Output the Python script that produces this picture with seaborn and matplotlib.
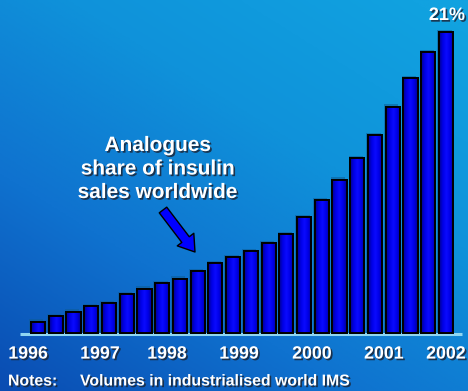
import numpy as np
import pandas as pd
import matplotlib
matplotlib.use("Agg")
import matplotlib.pyplot as plt
import matplotlib.patheffects as pe
from matplotlib.colors import LinearSegmentedColormap
from matplotlib.patches import Rectangle
import seaborn as sns

# Quarterly analogue share of insulin sales (%), 1996 Q1 - 2001 Q4
quarters = list(range(24))
share = [0.8, 1.2, 1.5, 1.9, 2.1, 2.7, 3.1, 3.5, 3.8, 4.3, 4.9, 5.3,
         5.7, 6.3, 6.9, 8.1, 9.3, 10.7, 12.2, 13.8, 15.8, 17.8, 19.6, 21.0]

year_labels = ["1996", "1997", "1998", "1999", "2000", "2001", "2002"]
year_label_pos = [-0.56, 3.49, 7.27, 11.33, 15.45, 19.5, 23.0]

last_label = "21%"
annotation = "Analogues\nshare of insulin\nsales worldwide"
note_head = "Notes:"
note_body = "Volumes in industrialised world IMS"

sns.set_theme(style="white")
plt.rcParams["font.family"] = ["Liberation Sans", "DejaVu Sans"]

W, H, DPI = 468, 391, 100
fig = plt.figure(figsize=(W / DPI, H / DPI), dpi=DPI)
ax = fig.add_axes([0, 0, 1, 1])

# diagonal blue gradient background
gx, gy = np.meshgrid(np.linspace(0, 1, 300), np.linspace(0, 1, 300))
t = np.clip(0.45 * gx + 0.6 * (1 - gy), 0, 1)
bg_cmap = LinearSegmentedColormap.from_list(
    "bg", ["#0a4cb2", "#0f72cf", "#0f92da", "#11a2e0"])
ax.imshow(t, cmap=bg_cmap, extent=[0, 1, 0, 1], transform=ax.transAxes,
          aspect="auto", origin="upper", zorder=0, interpolation="bilinear")

df = pd.DataFrame({"q": quarters, "share": share})
sns.barplot(data=df, x="q", y="share", color="#0000ff", width=0.8,
            edgecolor="black", linewidth=1.4, saturation=1, ax=ax, zorder=3)

# shade each bar: dark at the sides, bright in the middle
bar_cmap = LinearSegmentedColormap.from_list(
    "bar", ["#00008c", "#0000e6", "#0a0aff", "#0000e6", "#00008c"])
grad = np.linspace(0, 1, 64).reshape(1, -1)
bars = list(ax.patches)
for p in bars:
    x0, y0 = p.get_x(), p.get_y()
    w, h = p.get_width(), p.get_height()
    shadow = Rectangle((x0 - 0.09, y0), w, h + 0.15, facecolor="#0d5d96",
                       edgecolor="none", alpha=0.55, zorder=2.5)
    ax.add_patch(shadow)
    im = ax.imshow(grad, cmap=bar_cmap, extent=[x0, x0 + w, y0, y0 + h],
                   aspect="auto", zorder=3.2, interpolation="bilinear")
    im.set_clip_path(p)
    ax.add_patch(Rectangle((x0, y0), w, h, facecolor="none",
                           edgecolor="black", linewidth=1.4, zorder=3.4))

# pixel-aligned data limits
x_px0, dx = 38.0, 17.74
base_px, per_unit = 58.0, 301.0 / 21.0
ax.set_xlim(-x_px0 / dx, (W - x_px0) / dx)
ax.set_ylim(-base_px / per_unit, (H - base_px) / per_unit)
ax.axis("off")

# baseline
ax.plot([-1.01, 23.9], [-0.1, -0.1], color="#8fd6f2", lw=2.2,
        solid_capstyle="butt", zorder=2)

shadow_fx = [pe.withSimplePatchShadow(offset=(1.2, -1.2),
                                      shadow_rgbFace="#1a2a40", alpha=0.9)]

for lab, pos in zip(year_labels, year_label_pos):
    ax.text(pos, -1.47, lab, ha="center", va="center", color="white",
            fontsize=12.8, fontweight="bold", path_effects=shadow_fx,
            zorder=5)

ax.text(quarters[-1] + 0.05, share[-1] + 1.15, last_label, ha="center",
        va="center", color="white", fontsize=13, fontweight="bold",
        path_effects=shadow_fx, zorder=5)

fig.text(158 / W, 1 - 169 / H, annotation, ha="center", va="center",
         color="white", fontsize=15, fontweight="bold", linespacing=1.3,
         path_effects=shadow_fx, zorder=5)

ax.annotate("", xy=(195, H - 252), xytext=(163, H - 210),
            xycoords="figure pixels", textcoords="figure pixels",
            arrowprops=dict(arrowstyle="simple,head_length=0.75,head_width=1.0,tail_width=0.45",
                            mutation_scale=15, fc="#0000ff", ec="black",
                            lw=1.0, shrinkA=0, shrinkB=0),
            zorder=5)

fig.text(8 / W, 1 - 381 / H, note_head, ha="left", va="center",
         color="white", fontsize=11.4, fontweight="bold",
         path_effects=shadow_fx)
fig.text(80 / W, 1 - 381 / H, note_body, ha="left", va="center",
         color="white", fontsize=11.4, fontweight="bold",
         path_effects=shadow_fx)

fig.savefig("out.png", dpi=DPI)
